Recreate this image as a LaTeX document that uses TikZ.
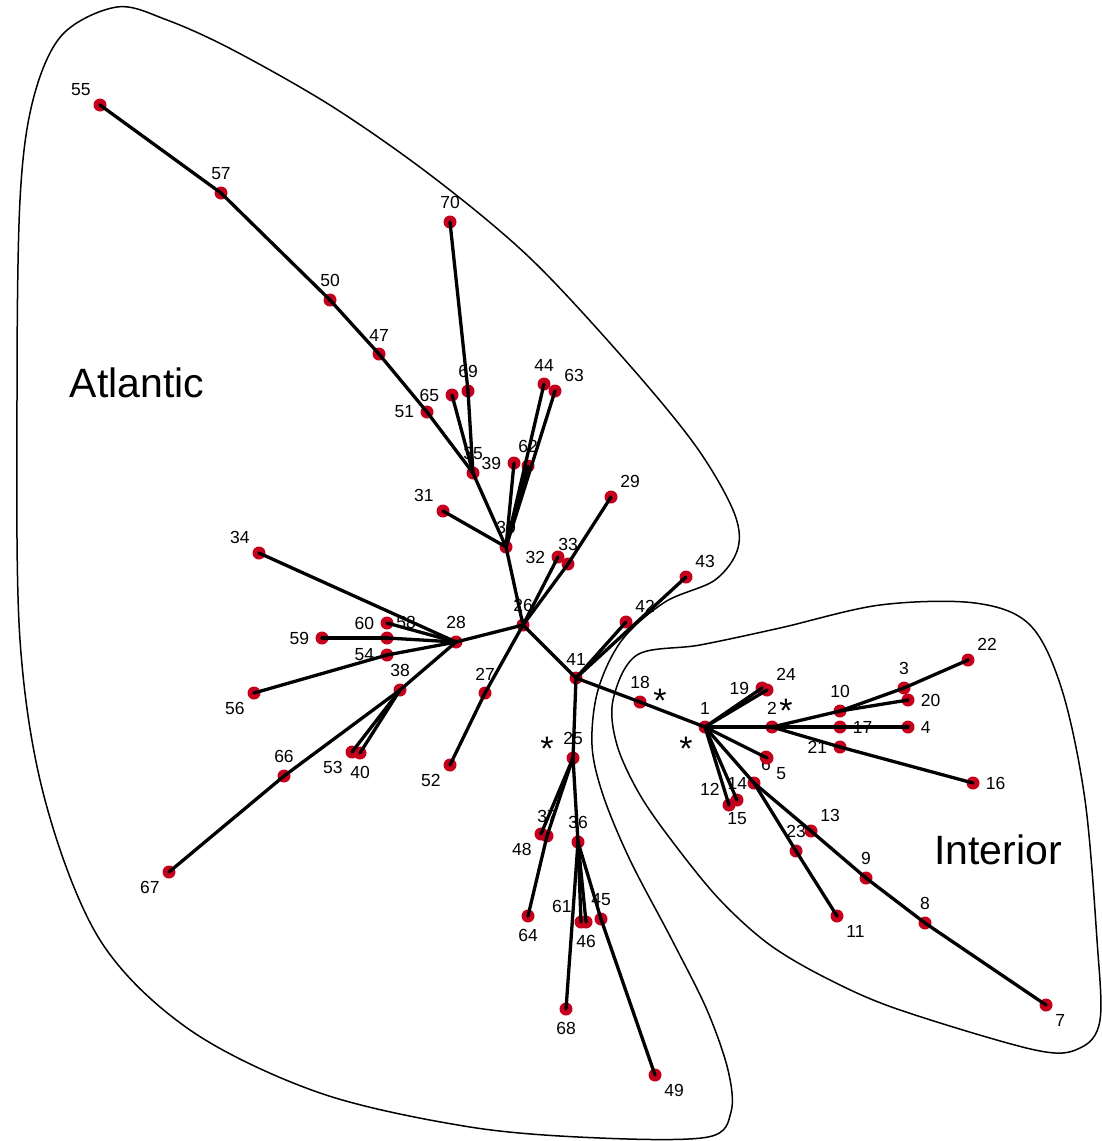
\documentclass[tikz,border=0pt]{standalone}
\usepackage{fontspec}
\setmainfont{Liberation Sans}
\usepackage{xcolor}
\usepackage{tikz}
\usetikzlibrary{positioning, calc}

\definecolor{dotred}{RGB}{196,0,28}

\begin{document}
\begin{tikzpicture}[
    x=1pt, y=-1pt,
    dot/.style={circle, fill=dotred, draw=none, inner sep=0pt, minimum size=13pt},
    num/.style={font=\fontsize{17.5}{17.5}\selectfont, inner sep=1pt},
    star/.style={font=\fontsize{34}{34}\selectfont, inner sep=0pt},
    region/.style={font=\fontsize{41}{41}\selectfont, inner sep=0pt},
    hull/.style={line width=1.5pt},
    edge/.style={line width=3.3pt, line cap=round},
    label distance=5pt,
]
\useasboundingbox (0,0) rectangle (1102,1141);

% Hulls
\draw [hull] plot [smooth cycle, tension=0.55] coordinates {
    (117,7) (167,20) (233,50) (333,107) (433,177) (530,258) (625,360) (695,445)
    (733,510) (738,548) (715,580) (665,602) (622,640) (598,690) (592,745)
    (603,795) (630,860) (672,940) (707,1010) (728,1070) (731,1112) (708,1137)
    (600,1138) (470,1127) (320,1093) (190,1030) (100,940) (45,800) (20,640)
    (17,400) (20,200) (33,100) (62,35)};
\draw [hull] plot [smooth cycle, tension=0.55] coordinates {
    (613,700) (637,655) (700,645) (780,628) (880,605) (975,603) (1030,625)
    (1062,690) (1085,800) (1097,940) (1100,1020) (1080,1048) (1035,1050)
    (900,1010) (830,980) (770,945) (720,900) (675,845) (640,795) (617,745)};

% Region names
\node (atlantic) [region] at (137,383) {Atlantic};
\node (interior) [region] at (998,850) {Interior};

% Atlantic samples
\node (s55) [dot, label={[num]above left:55}] at (100,105) {};
\node (s57) [dot, label={[num]above:57}] at (221,193) {};
\node (s50) [dot, label={[num]above:50}] at (330,300) {};
\node (s47) [dot, label={[num]above:47}] at (379,354) {};
\node (s51) [dot, label={[num]left:51}] at (427,412) {};
\node (s65) [dot, label={[num]left:65}] at (452,395) {};
\node (s69) [dot, label={[num]above:69}] at (468,391) {};
\node (s70) [dot, label={[num]above:70}] at (450,222) {};
\node (s35) [dot, label={[num]above:35}] at (473,473) {};
\node (s44) [dot, label={[num]above:44}] at (544,384) {};
\node (s63) [dot, label={[num]above right:63}] at (555,391) {};
\node (s39) [dot, label={[num]left:39}] at (514,463) {};
\node (s62) [dot, label={[num]above:62}] at (528,466) {};
\node (s31) [dot, label={[num]above left:31}] at (443,511) {};
\node (s30) [dot, label={[num]above:30}] at (506,547) {};
\node (s26) [dot, label={[num]above:26}] at (523,625) {};
\node (s32) [dot, label={[num]left:32}] at (558,557) {};
\node (s33) [dot, label={[num]above:33}] at (568,564) {};
\node (s29) [dot, label={[num]above right:29}] at (611,497) {};
\node (s27) [dot, label={[num]above:27}] at (485,693) {};
\node (s52) [dot, label={[num]below left:52}] at (450,765) {};
\node (s28) [dot, label={[num]above:28}] at (456,642) {};
\node (s34) [dot, label={[num]above left:34}] at (259,553) {};
\node (s60) [dot, label={[num]left:60}] at (387,623) {};
\node (s58) [dot, label={[num]above right:58}] at (387,638) {};
\node (s59) [dot, label={[num]left:59}] at (322,638) {};
\node (s54) [dot, label={[num]left:54}] at (387,655) {};
\node (s56) [dot, label={[num]below left:56}] at (254,693) {};
\node (s38) [dot, label={[num]above:38}] at (400,690) {};
\node (s53) [dot, label={[num]below left:53}] at (352,752) {};
\node (s40) [dot, label={[num]below:40}] at (360,753) {};
\node (s66) [dot, label={[num]above:66}] at (284,776) {};
\node (s67) [dot, label={[num]below left:67}] at (169,872) {};
\node (s41) [dot, label={[num]above:41}] at (576,678) {};
\node (s42) [dot, label={[num]above right:42}] at (626,622) {};
\node (s43) [dot, label={[num]above right:43}] at (686,577) {};
\node (s25) [dot, label={[num]above:25}] at (573,758) {};
\node (s37) [dot, label={[num]above:37}] at (547,836) {};
\node (s48) [dot, label={[num]below left:48}] at (541,834) {};
\node (s36) [dot, label={[num]above:36}] at (578,842) {};
\node (s64) [dot, label={[num]below:64}] at (528,916) {};
\node (s61) [dot, label={[num]above left:61}] at (581,922) {};
\node (s46) [dot, label={[num]below:46}] at (586,922) {};
\node (s45) [dot, label={[num]above:45}] at (601,919) {};
\node (s68) [dot, label={[num]below:68}] at (566,1009) {};
\node (s49) [dot, label={[num]below right:49}] at (655,1075) {};

% Interior samples
\node (s18) [dot, label={[num]above:18}] at (640,702) {};
\node (s1) [dot, label={[num]above:1}] at (705,727) {};
\node (s19) [dot, label={[num]left:19}] at (762,688) {};
\node (s24) [dot, label={[num]above right:24}] at (767,690) {};
\node (s2) [dot, label={[num]above:2}] at (772,727) {};
\node (s10) [dot, label={[num]above:10}] at (840,711) {};
\node (s17) [dot, label={[num]right:17}] at (840,727) {};
\node (s21) [dot, label={[num]left:21}] at (840,747) {};
\node (s3) [dot, label={[num]above:3}] at (904,688) {};
\node (s20) [dot, label={[num]right:20}] at (908,700) {};
\node (s22) [dot, label={[num]above right:22}] at (968,660) {};
\node (s4) [dot, label={[num]right:4}] at (908,727) {};
\node (s16) [dot, label={[num]right:16}] at (973,783) {};
\node (s6) [dot, label={[num, label distance=-7pt]below:6}] at (766,757) {};
\node (s5) [dot, label={[num]below right:5}] at (767,758) {};
\node (s14) [dot, label={[num, label distance=-1pt]left:14}] at (754,783) {};
\node (s12) [dot, label={[num]above left:12}] at (729,805) {};
\node (s15) [dot, label={[num]below:15}] at (737,800) {};
\node (s13) [dot, label={[num]above right:13}] at (811,831) {};
\node (s23) [dot, label={[num]above:23}] at (796,851) {};
\node (s9) [dot, label={[num]above:9}] at (866,878) {};
\node (s8) [dot, label={[num]above:8}] at (925,923) {};
\node (s7) [dot, label={[num]below right:7}] at (1046,1005) {};
\node (s11) [dot, label={[num]below right:11}] at (837,916) {};

% Marks
\node (mark18) [star] at (660,701) {*};
\node (mark1) [star] at (686,749) {*};
\node (mark2) [star] at (786,711) {*};
\node (mark25) [star] at (547,749) {*};

% Atlantic branches
\draw [edge] (s55.center) -- (s57.center);
\draw [edge] (s57.center) -- (s50.center);
\draw [edge] (s50.center) -- (s47.center);
\draw [edge] (s47.center) -- (s51.center);
\draw [edge] (s51.center) -- (s35.center);
\draw [edge] (s35.center) -- (s65.center);
\draw [edge] (s35.center) -- (s69.center);
\draw [edge] (s69.center) -- (s70.center);
\draw [edge] (s35.center) -- (s30.center);
\draw [edge] (s30.center) -- (s31.center);
\draw [edge] (s30.center) -- (s39.center);
\draw [edge] (s30.center) -- (s62.center);
\draw [edge] (s30.center) -- (s44.center);
\draw [edge] (s30.center) -- (s63.center);
\draw [edge] (s30.center) -- (s26.center);
\draw [edge] (s26.center) -- (s32.center);
\draw [edge] (s26.center) -- (s33.center);
\draw [edge] (s33.center) -- (s29.center);
\draw [edge] (s26.center) -- (s27.center);
\draw [edge] (s27.center) -- (s52.center);
\draw [edge] (s26.center) -- (s28.center);
\draw [edge] (s28.center) -- (s34.center);
\draw [edge] (s28.center) -- (s60.center);
\draw [edge] (s28.center) -- (s58.center);
\draw [edge] (s58.center) -- (s59.center);
\draw [edge] (s28.center) -- (s54.center);
\draw [edge] (s54.center) -- (s56.center);
\draw [edge] (s28.center) -- (s38.center);
\draw [edge] (s38.center) -- (s53.center);
\draw [edge] (s38.center) -- (s40.center);
\draw [edge] (s38.center) -- (s66.center);
\draw [edge] (s66.center) -- (s67.center);
\draw [edge] (s26.center) -- (s41.center);
\draw [edge] (s41.center) -- (s42.center);
\draw [edge] (s41.center) -- (s43.center);
\draw [edge] (s41.center) -- (s25.center);
\draw [edge] (s25.center) -- (s37.center);
\draw [edge] (s25.center) -- (s48.center);
\draw [edge] (s37.center) -- (s64.center);
\draw [edge] (s25.center) -- (s36.center);
\draw [edge] (s36.center) -- (s61.center);
\draw [edge] (s36.center) -- (s46.center);
\draw [edge] (s36.center) -- (s45.center);
\draw [edge] (s45.center) -- (s49.center);
\draw [edge] (s36.center) -- (s68.center);

% Interior branches
\draw [edge] (s41.center) -- (s18.center);
\draw [edge] (s18.center) -- (s1.center);
\draw [edge] (s1.center) -- (s19.center);
\draw [edge] (s1.center) -- (s24.center);
\draw [edge] (s1.center) -- (s2.center);
\draw [edge] (s2.center) -- (s10.center);
\draw [edge] (s2.center) -- (s17.center);
\draw [edge] (s2.center) -- (s21.center);
\draw [edge] (s10.center) -- (s3.center);
\draw [edge] (s3.center) -- (s22.center);
\draw [edge] (s10.center) -- (s20.center);
\draw [edge] (s17.center) -- (s4.center);
\draw [edge] (s21.center) -- (s16.center);
\draw [edge] (s1.center) -- (s5.center);
\draw [edge] (s1.center) -- (s12.center);
\draw [edge] (s1.center) -- (s15.center);
\draw [edge] (s1.center) -- (s14.center);
\draw [edge] (s14.center) -- (s13.center);
\draw [edge] (s13.center) -- (s9.center);
\draw [edge] (s9.center) -- (s8.center);
\draw [edge] (s8.center) -- (s7.center);
\draw [edge] (s14.center) -- (s23.center);
\draw [edge] (s23.center) -- (s11.center);

\end{tikzpicture}
\end{document}
